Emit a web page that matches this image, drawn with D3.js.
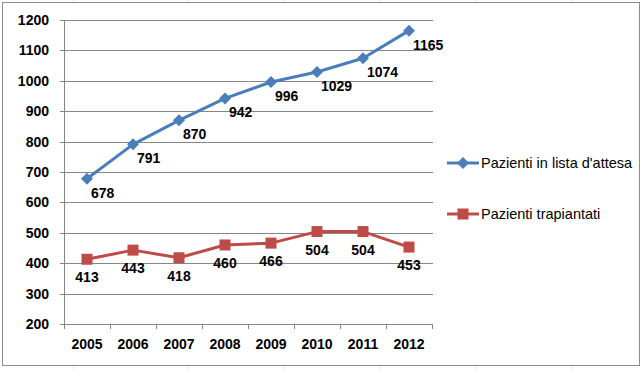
<!DOCTYPE html>
<html><head><meta charset="utf-8">
<script src="https://cdn.jsdelivr.net/npm/d3@7"></script>
<style>
html,body{margin:0;padding:0;background:#fff;}
svg{display:block;}
text{font-family:"Liberation Sans",Arial,sans-serif;}
</style></head>
<body>
<svg id="c" width="642" height="369"></svg>
<script>
const years = ["2005","2006","2007","2008","2009","2010","2011","2012"];
const attesa = [678, 791, 870, 942, 996, 1029, 1074, 1165];
const trapiantati = [413, 443, 418, 460, 466, 504, 504, 453];
const yTicks = [200, 300, 400, 500, 600, 700, 800, 900, 1000, 1100, 1200];
const seriesNames = ["Pazienti in lista d'attesa", "Pazienti trapiantati"];

const blue = "#4A7EBB", red = "#BE4B48";
const svg = d3.select("#c");

// faint spreadsheet cell lines outside chart
const cellX = [73, 188, 284, 380, 476, 572];
cellX.forEach(x => {
  svg.append("line").attr("x1", x + .5).attr("x2", x + .5).attr("y1", 0).attr("y2", 369)
    .attr("stroke", "#e4e4e4").attr("stroke-width", 1);
});
svg.append("rect").attr("x", 2.5).attr("y", 2.5).attr("width", 637).attr("height", 363)
  .attr("fill", "#fff").attr("stroke", "#8c8c8c").attr("stroke-width", 1);

const x = d3.scaleBand().domain(years).range([64, 432]).padding(0);
const y = d3.scaleLinear().domain([200, 1200]).range([324, 20]);

// gridlines
const g = svg.append("g");
g.selectAll("line.grid").data(yTicks).join("line")
  .attr("x1", 60).attr("x2", 433)
  .attr("y1", d => Math.round(y(d)) + .5).attr("y2", d => Math.round(y(d)) + .5)
  .attr("stroke", "#868686").attr("stroke-width", 1);

// y axis
g.append("line").attr("x1", 64.5).attr("x2", 64.5).attr("y1", y(1200)).attr("y2", 324.5)
  .attr("stroke", "#868686");
g.selectAll("text.yl").data(yTicks).join("text")
  .attr("x", 49).attr("y", d => y(d) + 5)
  .attr("text-anchor", "end").attr("font-size", 14).attr("font-weight", "bold")
  .attr("fill", "#000").text(d => d);

// x axis ticks
const xTickPos = years.map(d => x(d)).concat([x.range()[1]]);
g.selectAll("line.xt").data(xTickPos).join("line")
  .attr("x1", d => Math.round(d) + .5).attr("x2", d => Math.round(d) + .5)
  .attr("y1", 324).attr("y2", 329).attr("stroke", "#868686");
g.selectAll("text.xl").data(years).join("text")
  .attr("x", d => x(d) + x.bandwidth() / 2).attr("y", 349)
  .attr("text-anchor", "middle").attr("font-size", 14).attr("font-weight", "bold")
  .attr("fill", "#000").text(d => d);

const cx = (d, i) => x(years[i]) + x.bandwidth() / 2;
const line = d3.line().x((d, i) => cx(d, i)).y(d => y(d));

// series 1
svg.append("path").datum(attesa).attr("d", line).attr("fill", "none")
  .attr("stroke", blue).attr("stroke-width", 3).attr("stroke-linejoin", "round");
const diamond = (px, py, r) => `M${px},${py - r}L${px + r},${py}L${px},${py + r}L${px - r},${py}Z`;
svg.selectAll("path.d").data(attesa).join("path")
  .attr("d", (d, i) => diamond(cx(d, i), y(d), 6)).attr("fill", blue);
svg.selectAll("text.l1").data(attesa).join("text")
  .attr("x", (d, i) => cx(d, i) + 4).attr("y", d => y(d) + 19)
  .attr("font-size", 14).attr("font-weight", "bold").attr("fill", "#000").text(d => d);

// series 2
svg.append("path").datum(trapiantati).attr("d", line).attr("fill", "none")
  .attr("stroke", red).attr("stroke-width", 3).attr("stroke-linejoin", "round");
svg.selectAll("rect.s").data(trapiantati).join("rect")
  .attr("x", (d, i) => cx(d, i) - 5.5).attr("y", d => y(d) - 5.5)
  .attr("width", 11).attr("height", 11).attr("fill", red);
svg.selectAll("text.l2").data(trapiantati).join("text")
  .attr("x", (d, i) => cx(d, i)).attr("y", d => y(d) + 23)
  .attr("text-anchor", "middle")
  .attr("font-size", 14).attr("font-weight", "bold").attr("fill", "#000").text(d => d);

// legend
const legY = [163, 214];
const colors = [blue, red];
seriesNames.forEach((name, i) => {
  const lg = svg.append("g");
  lg.append("line").attr("x1", 447).attr("x2", 479).attr("y1", legY[i]).attr("y2", legY[i])
    .attr("stroke", colors[i]).attr("stroke-width", 3);
  if (i === 0) lg.append("path").attr("d", diamond(463, legY[i], 6)).attr("fill", blue);
  else lg.append("rect").attr("x", 457.5).attr("y", legY[i] - 5.5).attr("width", 11).attr("height", 11).attr("fill", red);
  lg.append("text").attr("x", 481).attr("y", legY[i] + 5).attr("font-size", 14.5)
    .attr("fill", "#000").text(name);
});
</script>
</body></html>
